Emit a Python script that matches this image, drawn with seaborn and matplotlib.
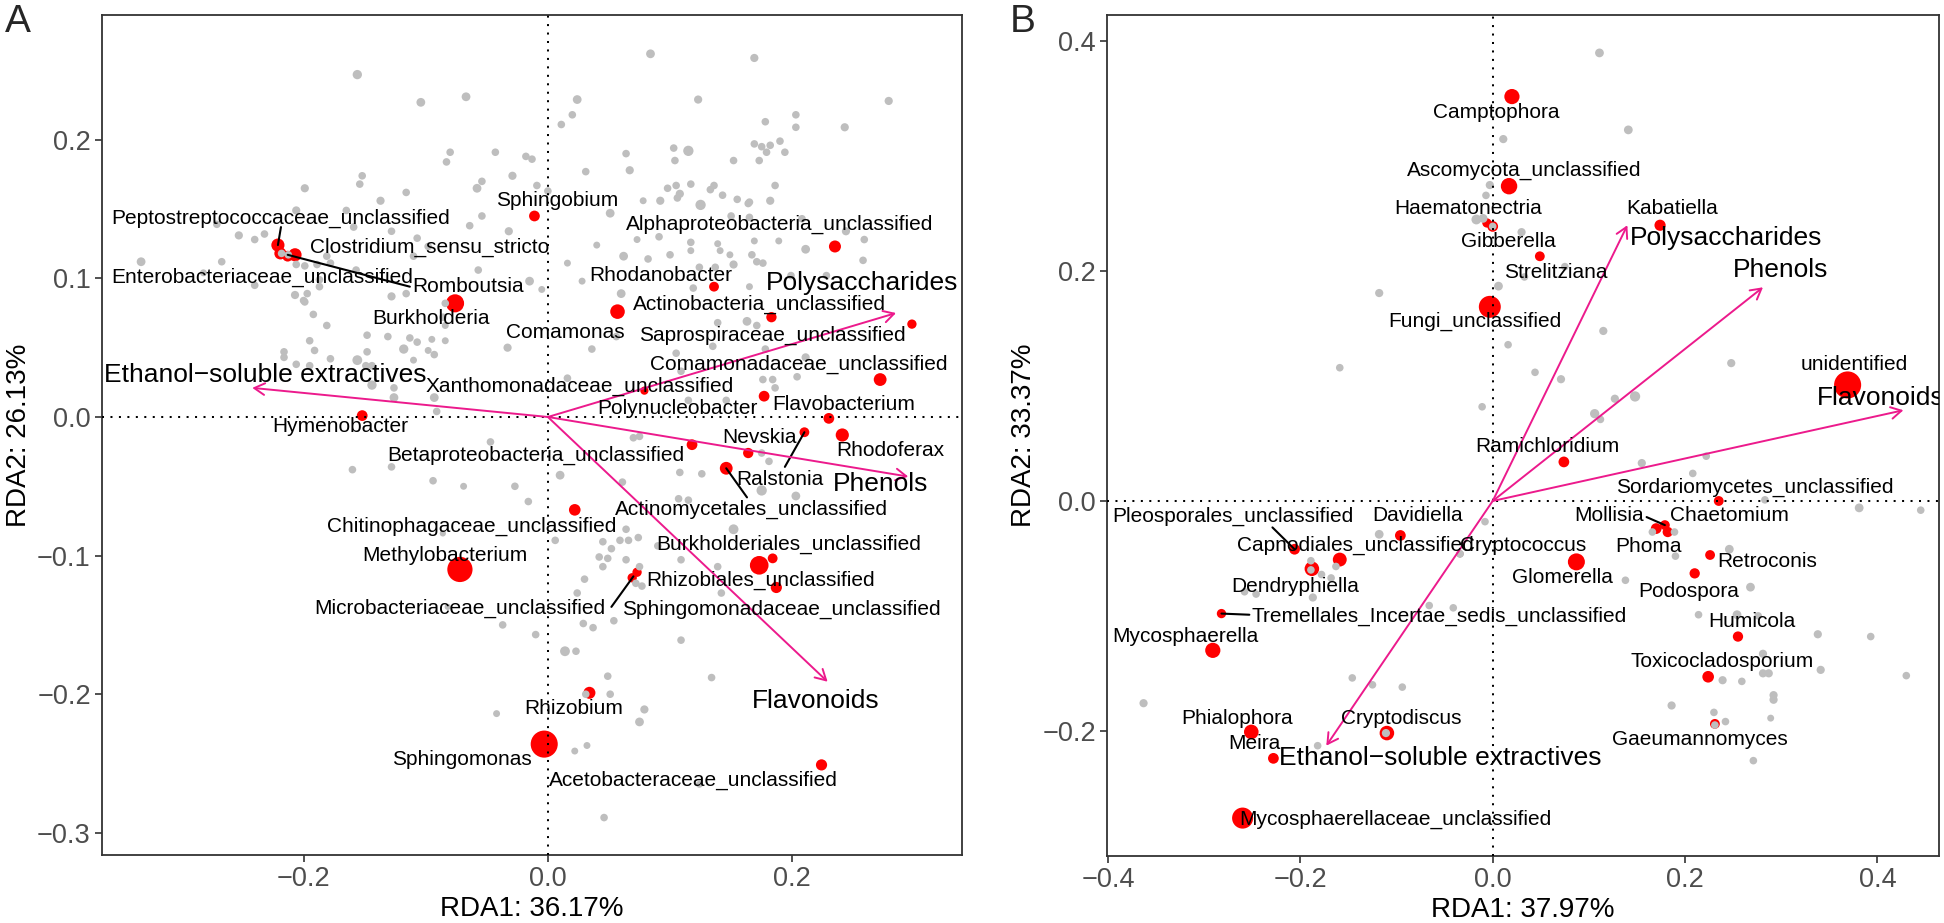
"""
RDA biplots (bacteria / fungi) recreated with seaborn + matplotlib.
"""
import numpy as np
import matplotlib
matplotlib.use("Agg")
import matplotlib.pyplot as plt
import seaborn as sns
from matplotlib.ticker import FuncFormatter

# ---------------- Panel A data ----------------
a_gray_x = [-0.156, -0.104, -0.067, -0.080, -0.083, -0.152, -0.154, -0.199, -0.137, -0.116, -0.058, -0.064,
            -0.206, -0.165, -0.159, -0.128, -0.107, -0.253, -0.240, -0.232, -0.271, -0.333, -0.267, -0.218,
            -0.2125, -0.181, -0.178, -0.110, -0.057, -0.206, -0.199, -0.189, -0.187, -0.157, -0.187, -0.207,
            -0.197, -0.200, -0.128, -0.116, -0.098, -0.240, -0.282,
            -0.199, -0.192, -0.181, -0.148, -0.131, -0.195, -0.191, -0.216, -0.216, -0.206, -0.195, -0.178,
            -0.156, -0.149, -0.144, -0.148, -0.118, -0.113, -0.107, -0.110, -0.095, -0.084, -0.098, -0.093,
            -0.084, -0.086, -0.084, -0.144, -0.126, -0.126, -0.093, -0.091, -0.160, -0.128, -0.094, -0.069,
            -0.086,
            0.084, 0.169, 0.024, 0.123, 0.279, 0.020, 0.011, 0.178, 0.203, 0.203, 0.243, -0.043, -0.018,
            -0.013, -0.029, -0.054, 0.064, 0.067, 0.031, 0.103, 0.115, 0.104, 0.152, 0.173, 0.169, 0.175,
            0.182, 0.179, 0.190, 0.194, -0.009, 0.000, 0.098, 0.105, 0.117, 0.108, 0.106, 0.133, 0.136,
            0.143, 0.155, 0.165, 0.164, 0.182, 0.186, 0.078, 0.092, 0.125, -0.032, -0.054, 0.051, 0.040,
            0.073, 0.091, 0.117, 0.117, 0.139, 0.141, 0.149, 0.150, 0.165, 0.169, 0.189, 0.208, 0.211,
            0.244, 0.259, 0.258, 0.016, 0.062, 0.082, 0.100, 0.124, 0.137, 0.152, 0.167, 0.171, 0.176,
            0.028, -0.015, -0.005, 0.060, 0.119, 0.165, 0.199, 0.228,
            0.163, 0.171, 0.139, -0.033, 0.036, 0.056, 0.105, 0.135, 0.178, 0.211, 0.016, 0.109, 0.176,
            0.184, 0.186, 0.204, 0.115, 0.146, -0.047, 0.010, -0.027, -0.016, 0.070, 0.075, 0.108, 0.126,
            0.061, 0.175, 0.181, 0.175, 0.203, 0.107, 0.115, 0.152, 0.064, 0.045, 0.059, 0.066, 0.074,
            0.052, 0.042, 0.049, 0.045, 0.064, 0.075, 0.090, 0.109, 0.139, 0.006, 0.030, 0.024, 0.072,
            0.077, 0.142,
            -0.037, -0.010, 0.029, 0.037, 0.054, 0.109, 0.014, 0.023, 0.049, 0.051, 0.031, 0.079, 0.075,
            0.134, -0.042, 0.022, 0.032, 0.046, 0.124, -0.082]
a_gray_y = [0.247, 0.227, 0.231, 0.191, 0.184, 0.174, 0.168, 0.165, 0.156, 0.162, 0.165, 0.138,
            0.149, 0.149, 0.137, 0.134, 0.129, 0.131, 0.128, 0.132, 0.139, 0.112, 0.112, 0.118,
            0.117, 0.116, 0.111, 0.116, 0.106, 0.110, 0.109, 0.110, 0.099, 0.106, 0.094, 0.088,
            0.089, 0.084, 0.087, 0.089, 0.123, 0.095, 0.104,
            0.083, 0.074, 0.066, 0.059, 0.058, 0.055, 0.048, 0.047, 0.043, 0.038, 0.037, 0.042,
            0.041, 0.037, 0.037, 0.047, 0.049, 0.057, 0.054, 0.041, 0.056, 0.055, 0.048, 0.045,
            0.082, 0.072, 0.066, 0.023, 0.021, 0.014, 0.014, 0.004, -0.038, -0.036, -0.046, -0.050,
            -0.084,
            0.262, 0.259, 0.229, 0.229, 0.228, 0.218, 0.211, 0.213, 0.218, 0.209, 0.209, 0.191, 0.188,
            0.186, 0.174, 0.170, 0.190, 0.178, 0.177, 0.194, 0.192, 0.185, 0.185, 0.185, 0.197, 0.195,
            0.196, 0.191, 0.199, 0.191, 0.167, 0.163, 0.165, 0.167, 0.168, 0.161, 0.158, 0.164, 0.167,
            0.160, 0.157, 0.155, 0.154, 0.156, 0.167, 0.156, 0.156, 0.153, 0.134, 0.145, 0.147, 0.124,
            0.128, 0.130, 0.126, 0.120, 0.125, 0.120, 0.117, 0.145, 0.144, 0.127, 0.127, 0.143, 0.121,
            0.134, 0.128, 0.113, 0.111, 0.116, 0.114, 0.117, 0.108, 0.108, 0.110, 0.117, 0.112, 0.111,
            0.098, 0.098, 0.092, 0.089, 0.093, 0.094, 0.102, 0.102,
            0.069, 0.066, 0.068, 0.050, 0.049, 0.058, 0.046, 0.051, 0.049, 0.043, 0.028, 0.033, 0.027,
            0.027, 0.021, 0.029, 0.012, 0.012, -0.018, -0.042, -0.050, -0.061, -0.015, -0.014, -0.040, -0.041,
            -0.047, -0.026, -0.032, -0.053, -0.057, -0.059, -0.060, -0.081, -0.081, -0.090, -0.089, -0.089, -0.087,
            -0.095, -0.101, -0.102, -0.108, -0.103, -0.108, -0.093, -0.103, -0.108, -0.089, -0.117, -0.127, -0.120,
            -0.122, -0.127,
            -0.150, -0.157, -0.149, -0.152, -0.147, -0.161, -0.169, -0.169, -0.187, -0.200, -0.200, -0.211, -0.220,
            -0.188, -0.214, -0.241, -0.237, -0.289, -0.265, -0.137]
a_gray_s = [45, 40, 40, 30, 30, 30, 30, 35, 35, 30, 40, 30,
            35, 30, 30, 30, 30, 35, 30, 30, 30, 40, 30, 30,
            30, 30, 30, 30, 30, 30, 30, 30, 30, 30, 30, 35,
            30, 30, 35, 30, 30, 30, 25,
            30, 30, 30, 30, 30, 30, 30, 30, 30, 30, 30, 30,
            50, 30, 30, 30, 45, 30, 30, 25, 25, 25, 25, 30,
            30, 30, 25, 45, 30, 40, 40, 30, 30, 30, 30, 25,
            20,
            40, 35, 40, 35, 35, 30, 30, 30, 30, 30, 35, 30, 30,
            30, 35, 30, 30, 35, 30, 30, 55, 30, 30, 30, 30, 30,
            30, 30, 30, 30, 30, 30, 30, 30, 30, 35, 30, 30, 30,
            30, 30, 30, 30, 35, 30, 25, 35, 55, 35, 30, 40, 25,
            25, 30, 30, 25, 25, 25, 25, 30, 30, 25, 25, 30, 40,
            35, 30, 30, 25, 40, 30, 30, 30, 30, 35, 30, 30, 30,
            25, 40, 25, 40, 30, 25, 30, 30,
            40, 30, 30, 35, 30, 30, 30, 30, 30, 35, 30, 30, 30,
            30, 30, 30, 30, 30, 30, 40, 30, 30, 30, 30, 30, 30,
            30, 30, 30, 55, 40, 30, 30, 50, 30, 30, 30, 30, 30,
            30, 30, 30, 30, 30, 30, 30, 30, 30, 30, 30, 30, 30,
            30, 30,
            30, 30, 30, 30, 30, 30, 50, 30, 30, 30, 30, 35, 40,
            30, 25, 25, 25, 30, 25, 20]

a_taxa = ["Peptostreptococcaceae_unclassified", "Enterobacteriaceae_unclassified", "Clostridium_sensu_stricto",
          "Romboutsia", "Burkholderia", "Sphingobium", "Alphaproteobacteria_unclassified", "Rhodanobacter",
          "Comamonas", "Actinobacteria_unclassified", "Saprospiraceae_unclassified", "Comamonadaceae_unclassified",
          "Xanthomonadaceae_unclassified", "Polynucleobacter", "Flavobacterium", "Rhodoferax", "Nevskia",
          "Ralstonia", "Betaproteobacteria_unclassified", "Actinomycetales_unclassified",
          "Chitinophagaceae_unclassified", "Hymenobacter", "Methylobacterium", "Burkholderiales_unclassified",
          "", "Rhizobiales_unclassified", "Microbacteriaceae_unclassified", "Sphingomonadaceae_unclassified",
          "Rhizobium", "Sphingomonas", "Acetobacteraceae_unclassified"]
a_taxa_x = [-0.221, -0.219, -0.207, -0.213, -0.076, -0.011, 0.235, 0.136, 0.057, 0.183, 0.298, 0.272,
            0.079, 0.177, 0.230, 0.241, 0.164, 0.210, 0.118, 0.146, 0.022, -0.152, -0.072, 0.173,
            0.184, 0.073, 0.069, 0.187, 0.034, -0.003, 0.224]
a_taxa_y = [0.124, 0.118, 0.117, 0.116, 0.082, 0.145, 0.123, 0.094, 0.076, 0.072, 0.067, 0.027,
            0.019, 0.015, -0.001, -0.013, -0.026, -0.011, -0.020, -0.037, -0.067, 0.001, -0.110, -0.107,
            -0.102, -0.112, -0.116, -0.123, -0.199, -0.236, -0.251]
a_taxa_s = [90, 75, 90, 60, 170, 60, 75, 50, 110, 55, 45, 85,
            35, 60, 60, 90, 55, 50, 60, 85, 70, 60, 330, 180,
            50, 45, 45, 65, 75, 380, 65]
a_label_x = [-0.219, -0.234, -0.097, -0.065, -0.096, 0.008, 0.190, 0.092, 0.014, 0.173, 0.184, 0.205,
             0.026, 0.106, 0.242, 0.280, 0.173, 0.190, -0.010, 0.167, -0.062, -0.170, -0.084, 0.197,
             0.0, 0.174, -0.072, 0.191, 0.021, -0.070, 0.119]
a_label_y = [0.143, 0.101, 0.122, 0.094, 0.071, 0.156, 0.139, 0.102, 0.061, 0.081, 0.059, 0.038,
             0.022, 0.006, 0.009, -0.024, -0.015, -0.045, -0.028, -0.067, -0.079, -0.007, -0.100, -0.092,
             0.0, -0.118, -0.138, -0.139, -0.210, -0.247, -0.262]
# repel segments: (x0, y0, x1, y1)
a_segments = [(-0.221, 0.124, -0.2185, 0.137), (-0.213, 0.117, -0.113, 0.094),
              (0.210, -0.011, 0.194, -0.036), (0.146, -0.037, 0.163, -0.058),
              (0.070, -0.115, 0.052, -0.137)]

a_env = ["Ethanol\u2212soluble extractives", "Polysaccharides", "Phenols", "Flavonoids"]
a_env_x = [-0.242, 0.285, 0.295, 0.229]
a_env_y = [0.021, 0.075, -0.043, -0.191]
a_env_lx = [-0.231, 0.257, 0.272, 0.219]
a_env_ly = [0.030, 0.097, -0.048, -0.205]

# ---------------- Panel B data ----------------
b_gray_x = [-0.118, -0.003, -0.007, -0.017, -0.010, 0.011, 0.006, 0.111, 0.141, 0.030, 0.075, 0.033,
            0.115, -0.159, -0.011, -0.008, -0.118, -0.034, -0.189, -0.163, -0.178, -0.168, -0.187, -0.258,
            -0.246, -0.066, -0.041, 0.016, 0.044, 0.071, 0.248, 0.127, 0.148, 0.106, 0.112, 0.155,
            0.222, 0.208, 0.283, 0.381, 0.166, 0.189, 0.246, 0.190, 0.138, 0.268, 0.214, 0.254,
            0.276, 0.338, 0.281, 0.281, 0.287, 0.341, 0.239, 0.259, 0.292, 0.292, 0.186, 0.230,
            0.242, 0.289, 0.271, -0.363, -0.146, -0.125, -0.094, -0.182,
            0.000, -0.189, -0.111, 0.231, -0.034, 0.445, 0.393, 0.430]
b_gray_y = [0.181, 0.275, 0.266, 0.245, 0.246, 0.315, 0.187, 0.390, 0.323, 0.234, 0.204, 0.195,
            0.148, 0.116, 0.082, -0.018, -0.029, -0.046, -0.052, -0.057, -0.064, -0.067, -0.084, -0.079,
            -0.081, -0.091, -0.093, 0.136, 0.112, 0.106, 0.120, 0.089, 0.091, 0.076, 0.071, 0.033,
            0.039, 0.024, 0.001, -0.006, -0.027, -0.027, -0.042, -0.048, -0.069, -0.075, -0.099, -0.099,
            -0.100, -0.116, -0.133, -0.150, -0.150, -0.147, -0.156, -0.157, -0.169, -0.173, -0.178, -0.184,
            -0.192, -0.189, -0.226, -0.176, -0.154, -0.160, -0.162, -0.213,
            0.239, -0.060, -0.202, -0.195, -0.046, -0.008, -0.118, -0.152]
b_gray_s = [35, 35, 30, 50, 40, 35, 40, 40, 40, 35, 30, 30,
            35, 30, 30, 30, 40, 30, 30, 30, 30, 30, 35, 30,
            30, 30, 30, 30, 30, 35, 35, 35, 55, 45, 30, 35,
            30, 30, 30, 40, 30, 30, 40, 30, 30, 40, 30, 40,
            30, 35, 35, 35, 35, 35, 35, 30, 35, 35, 35, 30,
            30, 25, 30, 35, 30, 30, 30, 30,
            30, 30, 35, 30, 30, 30, 30, 30]

b_taxa = ["Camptophora", "Ascomycota_unclassified", "Haematonectria", "Gibberella", "Kabatiella",
          "Strelitziana", "Fungi_unclassified", "unidentified", "Ramichloridium",
          "Sordariomycetes_unclassified", "Mollisia", "Chaetomium", "Phoma", "Glomerella", "Retroconis",
          "Podospora", "Humicola", "Toxicocladosporium", "Gaeumannomyces", "Davidiella",
          "Pleosporales_unclassified", "Capnodiales_unclassified", "Dendryphiella", "Cryptococcus",
          "Tremellales_Incertae_sedis_unclassified", "Mycosphaerella", "Phialophora", "Meira",
          "Cryptodiscus", "Mycosphaerellaceae_unclassified"]
b_taxa_x = [0.020, 0.017, -0.006, 0.000, 0.174, 0.049, -0.003, 0.369, 0.074, 0.235, 0.170, 0.179,
            0.182, 0.087, 0.226, 0.210, 0.255, 0.224, 0.231, -0.096, -0.206, -0.159, -0.188, -0.034,
            -0.282, -0.291, -0.251, -0.228, -0.110, -0.260]
b_taxa_y = [0.352, 0.274, 0.242, 0.239, 0.240, 0.213, 0.169, 0.101, 0.034, 0.000, -0.024, -0.021,
            -0.027, -0.053, -0.047, -0.063, -0.118, -0.153, -0.194, -0.030, -0.042, -0.051, -0.059, -0.046,
            -0.098, -0.130, -0.201, -0.224, -0.202, -0.276]
b_taxa_s = [120, 140, 45, 60, 65, 50, 250, 380, 60, 50, 60, 50,
            55, 150, 50, 55, 55, 70, 50, 60, 60, 100, 110, 25,
            45, 120, 110, 60, 110, 230]
b_label_x = [0.004, 0.033, -0.026, 0.016, 0.187, 0.066, -0.019, 0.376, 0.057, 0.272, 0.121, 0.246,
             0.162, 0.073, 0.285, 0.204, 0.269, 0.239, 0.215, -0.078, -0.270, -0.143, -0.205, 0.032,
             -0.056, -0.319, -0.266, -0.248, -0.095, -0.101]
b_label_y = [0.338, 0.288, 0.255, 0.226, 0.255, 0.199, 0.156, 0.119, 0.047, 0.012, -0.013, -0.013,
             -0.040, -0.067, -0.053, -0.079, -0.105, -0.140, -0.208, -0.013, -0.013, -0.039, -0.074, -0.039,
             -0.100, -0.118, -0.189, -0.211, -0.189, -0.277]
b_segments = [(-0.206, -0.042, -0.229, -0.023), (-0.282, -0.098, -0.253, -0.099),
              (0.179, -0.021, 0.160, -0.014)]

b_env = ["Ethanol\u2212soluble extractives", "Polysaccharides", "Phenols", "Flavonoids"]
b_env_x = [-0.173, 0.140, 0.281, 0.427]
b_env_y = [-0.213, 0.240, 0.186, 0.079]
b_env_lx = [-0.055, 0.243, 0.299, 0.4035]
b_env_ly = [-0.224, 0.229, 0.201, 0.090]

PINK = "#EC1A8C"
GRAY = "#BEBEBE"


def minus_fmt(v, _):
    return f"{v:.1f}".replace("-", "\u2212")


def draw_panel(ax, gray, taxa, labels, segments, env, xlim, ylim, xticks, yticks, xlabel, ylabel):
    taxa_names, taxa_x, taxa_y, taxa_s = taxa
    # red (selected taxa) first, background taxa drawn over them
    sns.scatterplot(x=taxa_x, y=taxa_y, s=taxa_s, color="red", edgecolor="none", linewidth=0,
                    ax=ax, zorder=2, legend=False)
    sns.scatterplot(x=gray[0], y=gray[1], s=gray[2], color=GRAY, edgecolor="none", linewidth=0,
                    ax=ax, zorder=3, legend=False)

    ax.axhline(0, color="black", ls=(0, (1, 3.2)), lw=1.45, zorder=4)
    ax.axvline(0, color="black", ls=(0, (1, 3.2)), lw=1.45, zorder=4)

    for x0, y0, x1, y1 in segments:
        ax.plot([x0, x1], [y0, y1], color="black", lw=1.5, zorder=5)

    env_names, env_x, env_y, env_lx, env_ly = env
    for name, ex, ey, lx, ly in zip(env_names, env_x, env_y, env_lx, env_ly):
        ax.annotate("", xy=(ex, ey), xytext=(0, 0),
                    arrowprops=dict(arrowstyle="->,head_length=0.5,head_width=0.28", color=PINK,
                                    lw=1.4, shrinkA=0, shrinkB=0, mutation_scale=15), zorder=5)
        ax.text(lx, ly, name, fontsize=19, ha="center", va="center", color="black",
                clip_on=True, zorder=6)

    lab_x, lab_y = labels
    for name, lx, ly in zip(taxa_names, lab_x, lab_y):
        if name:
            ax.text(lx, ly, name, fontsize=15, ha="center", va="center", color="black",
                    clip_on=True, zorder=6)

    ax.set_xlim(*xlim)
    ax.set_ylim(*ylim)
    ax.set_xticks(xticks)
    ax.set_yticks(yticks)
    ax.xaxis.set_major_formatter(FuncFormatter(minus_fmt))
    ax.yaxis.set_major_formatter(FuncFormatter(minus_fmt))
    ax.tick_params(axis="both", direction="out", length=5, width=1.2, color="#333333",
                   labelsize=19.5, labelcolor="#4D4D4D", pad=3, bottom=True, left=True)
    ax.set_xlabel(xlabel, fontsize=20, color="black", labelpad=3)
    ax.set_ylabel(ylabel, fontsize=20, color="black", labelpad=4)
    for sp in ax.spines.values():
        sp.set_color("#333333")
        sp.set_linewidth(1.3)
    ax.grid(False)


sns.set_theme(style="white")
plt.rcParams["font.family"] = ["Liberation Sans", "DejaVu Sans"]

fig = plt.figure(figsize=(19.44, 9.23), dpi=100)
ax_a = fig.add_axes([102 / 1944, 68 / 923, 860 / 1944, 840 / 923])
ax_b = fig.add_axes([1107 / 1944, 67 / 923, 832 / 1944, 841 / 923])

draw_panel(ax_a, (a_gray_x, a_gray_y, a_gray_s), (a_taxa, a_taxa_x, a_taxa_y, a_taxa_s),
           (a_label_x, a_label_y), a_segments, (a_env, a_env_x, a_env_y, a_env_lx, a_env_ly),
           (-0.365, 0.339), (-0.316, 0.290), [-0.2, 0.0, 0.2], [-0.3, -0.2, -0.1, 0.0, 0.1, 0.2],
           "RDA1: 36.17%", "RDA2: 26.13%")
draw_panel(ax_b, (b_gray_x, b_gray_y, b_gray_s), (b_taxa, b_taxa_x, b_taxa_y, b_taxa_s),
           (b_label_x, b_label_y), b_segments, (b_env, b_env_x, b_env_y, b_env_lx, b_env_ly),
           (-0.401, 0.464), (-0.309, 0.423), [-0.4, -0.2, 0.0, 0.2, 0.4], [-0.2, 0.0, 0.2, 0.4],
           "RDA1: 37.97%", "RDA2: 33.37%")

fig.text(5 / 1944, 1 - 4 / 923, "A", fontsize=28, ha="left", va="top")
fig.text(1010 / 1944, 1 - 4 / 923, "B", fontsize=28, ha="left", va="top")

fig.savefig("out.png", dpi=100)
plt.close(fig)
